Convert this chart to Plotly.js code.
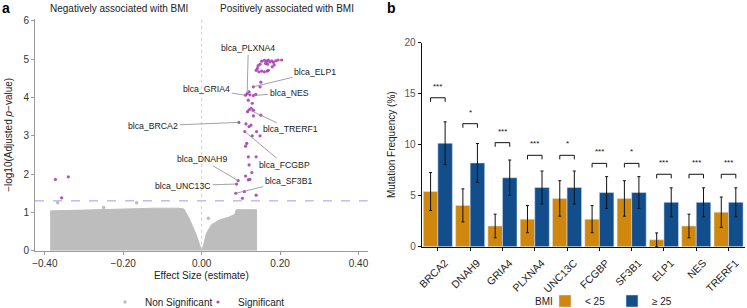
<!DOCTYPE html>
<html>
<head>
<meta charset="utf-8">
<script src="https://cdn.plot.ly/plotly-3.0.1.min.js"></script>
<style>
  html, body { margin: 0; padding: 0; background: #fff; }
  #chart { width: 747px; height: 308px; }
</style>
</head>
<body>
<div id="chart"></div>
<script>
// ---- Panel a: volcano plot of BMI-associated mutations ----
// Significant genes (effect size, -log10 adjusted p)
const sigX = [0.153, 0.160, 0.166, 0.170, 0.174, 0.179, 0.183, 0.189, 0.195, 0.204, 0.163, 0.168,
              0.149, 0.144, 0.142, 0.139, 0.146, 0.153, 0.160, 0.167, 0.170, 0.185, 0.180,
              0.151, 0.149, 0.121, 0.123, 0.138, 0.119, 0.129, 0.126, 0.117, 0.132, 0.132, 0.151,
              0.113, 0.126, 0.121, 0.140, 0.129, 0.149, 0.115, 0.112, 0.119, 0.139, 0.121, 0.128,
              0.112, 0.119, 0.123, 0.109, 0.139, 0.104, -0.373, -0.340, -0.357];
const sigY = [4.95, 4.97, 4.95, 4.98, 4.93, 4.96, 4.92, 4.96, 4.98, 4.98, 4.89, 4.87,
              4.87, 4.83, 4.76, 4.71, 4.67, 4.69, 4.67, 4.69, 4.71, 4.85, 4.80,
              4.40, 4.28, 4.15, 4.07, 4.08, 3.93, 3.85, 3.72, 3.63, 3.67, 3.52, 3.54,
              3.31, 3.28, 3.24, 3.11, 3.00, 3.00, 2.80, 2.73, 2.45, 2.45, 2.24, 2.04,
              1.95, 1.85, 1.86, 1.54, 1.45, 1.37, 1.86, 1.93, 1.38];

// Labelled genes
const labelGenes = ['blca_PLXNA4', 'blca_ELP1', 'blca_GRIA4', 'blca_NES', 'blca_BRCA2',
                    'blca_TRERF1', 'blca_FCGBP', 'blca_DNAH9', 'blca_UNC13C', 'blca_SF3B1'];
const labelX = [0.116, 0.132, 0.112, 0.132, 0.095, 0.121, 0.110, 0.093, 0.089, 0.087];
const labelY = [4.10, 4.28, 4.06, 4.05, 3.35, 3.68, 3.11, 1.83, 1.74, 1.50];

// Outline of the dense non-significant cloud
const cloudX = [-0.385, -0.385, -0.30, -0.20, -0.12, -0.06, -0.045, -0.03, -0.015, -0.005, 0.0,
                0.005, 0.012, 0.025, 0.045, 0.07, 0.085, 0.088, 0.14, 0.14];
const cloudY = [0.0, 1.04, 1.06, 1.09, 1.11, 1.11, 1.09, 0.80, 0.45, 0.15, 0.03,
                0.15, 0.45, 0.68, 0.80, 0.88, 0.95, 1.07, 1.07, 0.0];
// Scattered non-significant genes outside the cloud
const nsX = [-0.367, -0.166, 0.017, -0.25];
const nsY = [1.25, 1.25, 0.85, 1.13];

const pThreshold = 1.301; // -log10(0.05)

// ---- Panel b: mutation frequency by BMI group ----
const genes = ['BRCA2', 'DNAH9', 'GRIA4', 'PLXNA4', 'UNC13C', 'FCGBP', 'SF3B1', 'ELP1', 'NES', 'TRERF1'];
const freqLow = [5.41, 4.05, 2.03, 2.70, 4.73, 2.70, 4.73, 0.68, 2.03, 3.38];
const errLow = [1.86, 1.62, 1.16, 1.33, 1.74, 1.33, 1.74, 0.67, 1.16, 1.49];
const freqHigh = [10.14, 8.21, 6.76, 5.80, 5.80, 5.31, 5.31, 4.35, 4.35, 4.35];
const errHigh = [2.10, 1.91, 1.74, 1.62, 1.62, 1.56, 1.56, 1.42, 1.42, 1.42];
const bracketY = [14.6, 12.06, 10.2, 8.96, 8.96, 8.17, 8.17, 7.1, 7.1, 7.1];
const sigLabels = ['***', '*', '***', '***', '*', '***', '*', '***', '***', '***'];

const FONT = 'Liberation Sans, Arial, Helvetica, sans-serif';
const GREY = '#bdbdbd';
const PURPLE = '#a63fb3';
const ORANGE = '#cf880d';
const BLUE = '#134e8c';

const traces = [
  {
    x: cloudX, y: cloudY, xaxis: 'x', yaxis: 'y',
    type: 'scatter', mode: 'lines', fill: 'toself',
    fillcolor: GREY, line: { color: GREY, width: 1 },
    hoverinfo: 'skip', showlegend: false
  },
  {
    x: nsX, y: nsY, xaxis: 'x', yaxis: 'y',
    type: 'scatter', mode: 'markers', name: 'Non Significant',
    marker: { color: GREY, size: 3.5 }, legend: 'legend'
  },
  {
    x: sigX.concat(labelX), y: sigY.concat(labelY), xaxis: 'x', yaxis: 'y',
    type: 'scatter', mode: 'markers', name: 'Significant',
    marker: { color: PURPLE, size: 3.2, opacity: 0.9 }, legend: 'legend'
  },
  {
    x: genes, y: freqLow, xaxis: 'x2', yaxis: 'y2', type: 'bar', name: '< 25',
    marker: { color: ORANGE, line: { color: 'rgba(220,228,238,0.9)', width: 0.6 } },
    error_y: { type: 'data', array: errLow, color: '#111', thickness: 1, width: 1.5 },
    legend: 'legend2'
  },
  {
    x: genes, y: freqHigh, xaxis: 'x2', yaxis: 'y2', type: 'bar', name: '≥ 25',
    marker: { color: BLUE, line: { color: 'rgba(220,228,238,0.9)', width: 0.6 } },
    error_y: { type: 'data', array: errHigh, color: '#111', thickness: 1, width: 1.5 },
    legend: 'legend2'
  }
];

const shapes = [
  // significance threshold
  { type: 'line', xref: 'x domain', yref: 'y', x0: 0, x1: 1, y0: pThreshold, y1: pThreshold,
    line: { color: '#9b9cf2', width: 1, dash: 'dash' } },
  // zero effect
  { type: 'line', xref: 'x', yref: 'y domain', x0: 0, x1: 0, y0: 0, y1: 1,
    line: { color: '#cfcfcf', width: 1, dash: 'dot' } }
];

// significance brackets between the two bars of each gene
const half = 0.225, tick = 0.4;
genes.forEach((g, i) => {
  const yb = bracketY[i];
  const ln = { color: '#111', width: 1 };
  shapes.push({ type: 'line', xref: 'x2', yref: 'y2', x0: i - half, x1: i + half, y0: yb, y1: yb, line: ln });
  shapes.push({ type: 'line', xref: 'x2', yref: 'y2', x0: i - half, x1: i - half, y0: yb - tick, y1: yb, line: ln });
  shapes.push({ type: 'line', xref: 'x2', yref: 'y2', x0: i + half, x1: i + half, y0: yb - tick, y1: yb, line: ln });
});

// label positions (text anchor) in data units
const labelPos = [
  [0.119, 5.28], [0.289, 4.67], [0.013, 4.21], [0.223, 4.13], [-0.123, 3.26],
  [0.227, 3.17], [0.212, 2.24], [0.0, 2.39], [-0.047, 1.70], [0.221, 1.83]
];

const annotations = [
  { text: '<b>a</b>', xref: 'paper', yref: 'paper', x: 0, y: 1 - 8 / 308, xanchor: 'left', yanchor: 'middle',
    showarrow: false, font: { family: FONT, size: 14, color: '#000' } },
  { text: '<b>b</b>', xref: 'paper', yref: 'paper', x: 385 / 747, y: 1 - 8 / 308, xanchor: 'left', yanchor: 'middle',
    showarrow: false, font: { family: FONT, size: 14, color: '#000' } },
  { text: 'Negatively associated with BMI', xref: 'paper', yref: 'paper', x: 119 / 747, y: 1 - 8 / 308,
    xanchor: 'center', yanchor: 'middle', showarrow: false, font: { family: FONT, size: 10, color: '#222' } },
  { text: 'Positively associated with BMI', xref: 'paper', yref: 'paper', x: 286.7 / 747, y: 1 - 8 / 308,
    xanchor: 'center', yanchor: 'middle', showarrow: false, font: { family: FONT, size: 10, color: '#222' } },
  // title of the BMI legend
  { text: 'BMI', xref: 'paper', yref: 'paper', x: 555 / 747, y: 1 - 301 / 308,
    xanchor: 'right', yanchor: 'middle', showarrow: false, font: { family: FONT, size: 10, color: '#222' } }
];

labelGenes.forEach((name, i) => {
  annotations.push({
    text: name, xref: 'x', yref: 'y', x: labelX[i], y: labelY[i],
    axref: 'x', ayref: 'y', ax: labelPos[i][0], ay: labelPos[i][1],
    showarrow: true, arrowhead: 0, arrowwidth: 0.8, arrowcolor: '#8a8a8a', standoff: 0,
    font: { family: FONT, size: 8.7, color: '#222' }
  });
});

sigLabels.forEach((s, i) => {
  annotations.push({
    text: s, xref: 'x2', yref: 'y2', x: i, y: bracketY[i], yanchor: 'bottom', yshift: 5,
    showarrow: false, font: { family: FONT, size: 8, color: '#111' }
  });
});

const layout = {
  width: 747, height: 308,
  margin: { l: 0, r: 0, t: 0, b: 0, autoexpand: false },
  paper_bgcolor: '#fff', plot_bgcolor: 'rgba(0,0,0,0)',
  font: { family: FONT, size: 10, color: '#222' },
  barmode: 'group', bargap: 0.1, bargroupgap: 0,
  xaxis: {
    domain: [35 / 747, 367.7 / 747], range: [-0.425, 0.4235], anchor: 'y',
    tickvals: [-0.4, -0.2, 0, 0.2, 0.4], tickformat: '.2f',
    showline: true, linecolor: '#9a9a9a', linewidth: 1, ticks: 'outside', ticklen: 3, tickcolor: '#9a9a9a',
    showgrid: false, zeroline: false, automargin: false,
    tickfont: { size: 10, color: '#333' },
    title: { text: 'Effect Size (estimate)', font: { size: 10, color: '#222' }, standoff: 4 }
  },
  yaxis: {
    domain: [1 - 250.7 / 308, 1 - 19 / 308], range: [0, 6.05], anchor: 'x',
    tickvals: [0, 1, 2, 3, 4, 5, 6],
    showline: true, linecolor: '#9a9a9a', linewidth: 1, ticks: 'outside', ticklen: 3, tickcolor: '#9a9a9a',
    showgrid: false, zeroline: false, automargin: false,
    tickfont: { size: 10, color: '#333' },
    title: { text: '−log10(Adjusted <i>p</i>−value)', font: { size: 10, color: '#222' }, standoff: 8 }
  },
  xaxis2: {
    domain: [421.7 / 747, 744.7 / 747], anchor: 'y2', type: 'category', tickangle: -45,
    showline: true, linecolor: '#111', linewidth: 1, ticks: 'outside', ticklen: 3, tickcolor: '#111',
    showgrid: false, zeroline: false, automargin: false,
    ticklabelshift: 7, ticklabelstandoff: 2,
    tickfont: { size: 10.5, color: '#222' }
  },
  yaxis2: {
    domain: [1 - 246.7 / 308, 1 - 42.7 / 308], range: [0, 20], anchor: 'x2',
    tickvals: [0, 5, 10, 15, 20],
    showline: true, linecolor: '#111', linewidth: 1, ticks: 'outside', ticklen: 3, tickcolor: '#111',
    showgrid: false, zeroline: false, automargin: false,
    tickfont: { size: 10, color: '#555' },
    title: { text: 'Mutation Frequency (%)', font: { size: 10, color: '#222' }, standoff: 7 }
  },
  legend: {
    orientation: 'h', x: 105 / 747, y: 1 - 302 / 308, xanchor: 'left', yanchor: 'middle',
    entrywidth: 48, entrywidthmode: 'pixels',
    font: { size: 10, color: '#222' }, bgcolor: 'rgba(0,0,0,0)'
  },
  legend2: {
    orientation: 'h', x: 545 / 747, y: 1 - 301 / 308, xanchor: 'left', yanchor: 'middle',
    entrywidth: 22, entrywidthmode: 'pixels',
    font: { size: 10, color: '#222' }, bgcolor: 'rgba(0,0,0,0)'
  },
  shapes: shapes,
  annotations: annotations
};

Plotly.newPlot('chart', traces, layout, { displayModeBar: false, staticPlot: true });
</script>
</body>
</html>
